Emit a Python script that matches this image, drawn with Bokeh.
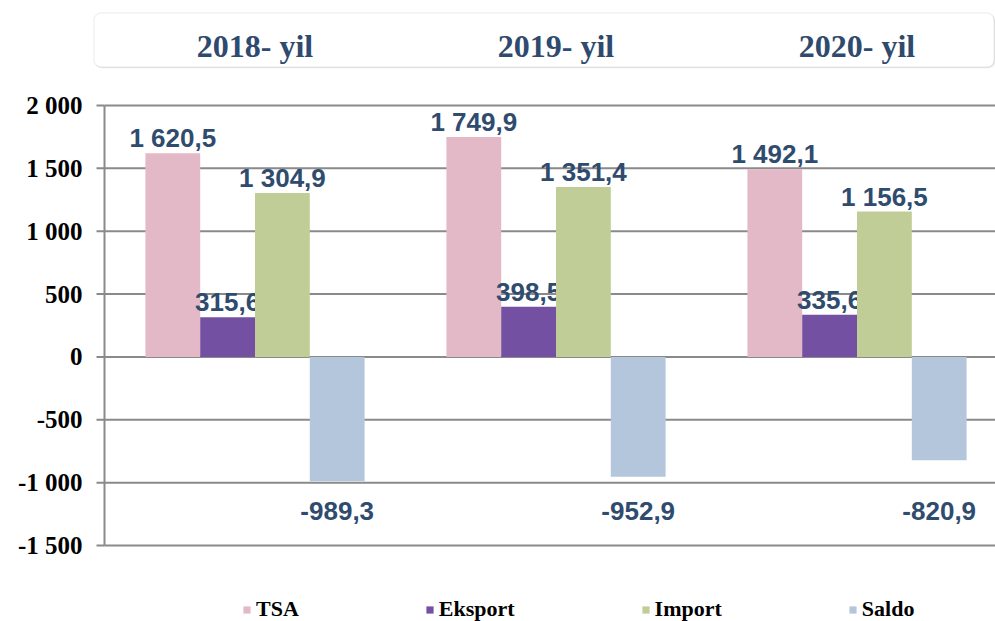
from bokeh.plotting import figure
from bokeh.layouts import column
from bokeh.models import Range1d, FixedTicker, BoxAnnotation, Legend, LegendItem
from bokeh.core.properties import value
from bokeh.embed import file_html
from bokeh.resources import INLINE

# ---------------- data ----------------
years = ["2018- yil", "2019- yil", "2020- yil"]
series = ["TSA", "Eksport", "Import", "Saldo"]
tsa = [1620.5, 1749.9, 1492.1]
eksport = [315.6, 398.5, 335.6]
importv = [1304.9, 1351.4, 1156.5]
saldo = [-989.3, -952.9, -820.9]
y_ticks = [-1500, -1000, -500, 0, 500, 1000, 1500, 2000]

# ---------------- styles / layout ----------------
colors = ["#E4B9C7", "#7350A1", "#C1CD97", "#B4C6DC"]
label_color = "#2F4B6E"
grid_color = "#8A8A8A"

W = 995
HEADER_H = 70
MAIN_H = 621 - HEADER_H
FRAME_LEFT = 92           # frame left (page px)
AXIS_PX = 104             # page px of the value axis line
PX_PER_CAT = 301.0
PX_PER_UNIT = 440.0 / 3500.0
TICK_TOP_PAGE = 105       # page px of the top tick (2000)
x_end = (W - FRAME_LEFT) / PX_PER_CAT
AX = (AXIS_PX - FRAME_LEFT) / PX_PER_CAT
TICK_X0 = (AXIS_PX - 8 - FRAME_LEFT) / PX_PER_CAT


def px_to_x(page_px):
    return (page_px - FRAME_LEFT) / PX_PER_CAT


def px_to_y(page_px):
    return y_ticks[-1] + (TICK_TOP_PAGE - page_px) / PX_PER_UNIT


y_end = px_to_y(HEADER_H)
y_start = px_to_y(621)

BW = 54.8 / PX_PER_CAT
NEG_LABEL_Y = px_to_y(510)
centers = [AX + i + 0.5 for i in range(len(years))]


def fmt(v):
    return f"{v:,.1f}".replace(",", " ").replace(".", ",")


# ---------------- header strip ----------------
h = figure(width=W, height=HEADER_H,
           x_range=Range1d(0, x_end),
           y_range=Range1d(HEADER_H, 0),
           min_border_left=FRAME_LEFT, min_border_right=0,
           min_border_top=0, min_border_bottom=0,
           x_axis_location=None, y_axis_location=None,
           output_backend="svg", toolbar_location=None)
h.outline_line_color = None
h.xgrid.visible = False
h.ygrid.visible = False
# faint shadow then the box
h.add_layout(BoxAnnotation(left=px_to_x(94.5), right=px_to_x(994.5),
                           top=13.5, bottom=67.5,
                           fill_color="#E6E6E6", fill_alpha=1.0,
                           line_color="#E6E6E6", line_width=1, border_radius=7,
                           level="underlay"))
h.add_layout(BoxAnnotation(left=px_to_x(93.5), right=px_to_x(993.5),
                           top=12.5, bottom=66.5,
                           fill_color="white", fill_alpha=1.0,
                           line_color="#BDBDBD", line_width=1, border_radius=7,
                           level="underlay"))
h.text(x=centers, y=[45] * len(years), text=years,
       text_font=value("Liberation Serif"), text_font_style="bold",
       text_font_size="32px", text_color="#2F4A6E",
       text_align="center", text_baseline="middle")

# ---------------- main chart ----------------
p = figure(width=W, height=MAIN_H,
           x_range=Range1d(0, x_end),
           y_range=Range1d(y_start, y_end),
           min_border_left=FRAME_LEFT, min_border_right=0,
           min_border_top=0, min_border_bottom=0,
           x_axis_location=None,
           output_backend="svg", toolbar_location=None)
p.outline_line_color = None
p.background_fill_color = "white"
p.border_fill_color = "white"
p.xgrid.visible = False
p.ygrid.visible = False

# gridlines, axis line and ticks drawn from the tick list
n = len(y_ticks)
p.segment(x0=[AX] * n, x1=[x_end] * n, y0=y_ticks, y1=y_ticks,
          line_color=grid_color, line_width=2)
p.segment(x0=[TICK_X0] * n, x1=[AX] * n, y0=y_ticks, y1=y_ticks,
          line_color=grid_color, line_width=2)
p.segment(x0=[AX], x1=[AX], y0=[y_ticks[0]], y1=[y_ticks[-1]],
          line_color=grid_color, line_width=2)

# tick labels only from the axis
ax = p.yaxis[0]
ax.ticker = FixedTicker(ticks=y_ticks)
ax.major_label_overrides = {t: f"{t:,}".replace(",", " ") for t in y_ticks}
ax.axis_line_color = None
ax.major_tick_line_color = None
ax.minor_tick_line_color = None
ax.major_tick_out = 0
ax.major_tick_in = 0
ax.major_label_standoff = 10
ax.major_label_text_font = "Liberation Serif"
ax.major_label_text_font_style = "bold"
ax.major_label_text_font_size = "25px"
ax.major_label_text_color = "black"

all_vals = [tsa, eksport, importv, saldo]
renderers = []
for j, (name, vals) in enumerate(zip(series, all_vals)):
    xs = [c + (j - 1.5) * BW for c in centers]
    r = p.vbar(x=xs, top=vals, bottom=0, width=BW,
               fill_color=colors[j], line_color=None)
    renderers.append(r)
    labels = [fmt(v) for v in vals]
    if all(v >= 0 for v in vals):
        p.text(x=xs, y=vals, text=labels, y_offset=-15,
               text_font=value("Liberation Sans"), text_font_style="bold",
               text_font_size="26px", text_color=label_color,
               text_align="center", text_baseline="alphabetic")
    else:
        p.text(x=xs, y=[NEG_LABEL_Y] * len(vals), text=labels,
               text_font=value("Liberation Sans"), text_font_style="bold",
               text_font_size="26px", text_color=label_color,
               text_align="center", text_baseline="middle")

legend = Legend(items=[LegendItem(label=s, renderers=[r]) for s, r in zip(series, renderers)],
                orientation="horizontal", location=(242 - FRAME_LEFT, -1),
                glyph_width=9, glyph_height=9, label_standoff=5, spacing=126,
                padding=0, margin=0,
                label_text_font="Liberation Serif", label_text_font_style="bold",
                label_text_font_size="22px", label_text_color="black",
                border_line_color=None, background_fill_alpha=0)
p.add_layout(legend)

layout = column(h, p, spacing=0)
open("out.html", "w").write(file_html(layout, INLINE))
